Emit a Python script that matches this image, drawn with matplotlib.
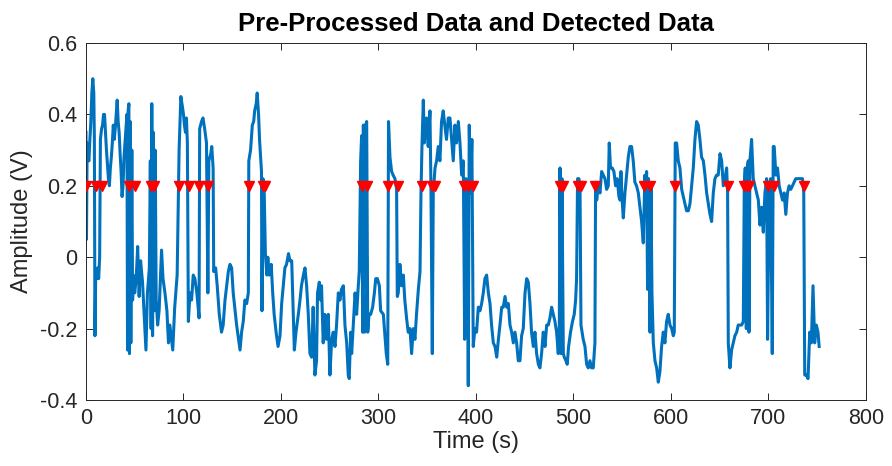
import matplotlib
matplotlib.use("Agg")
import matplotlib.pyplot as plt

plt.rcParams["font.family"] = ["Liberation Sans", "DejaVu Sans"]
plt.rcParams["axes.unicode_minus"] = False

# Pre-processed signal: time (s) and amplitude (V)
time_s = [
    0, 0.5, 1.2, 2, 3, 4, 5, 6, 7, 8, 8.6, 9.2, 10, 11, 12, 13, 14, 14.8, 16, 17,
    18, 19, 20, 21, 22, 23, 24, 25, 26, 27, 28, 29, 30, 31, 32, 33, 34, 35, 36, 37,
    38, 39, 40, 41, 42, 42.6, 43.2, 44, 44.6, 45.3, 46, 47, 47.8, 48.5, 49.5,
    50, 51.5, 53, 54.5, 56, 58, 60, 61.5, 63, 65, 66, 66.8, 67.5, 68.3, 69, 70, 71,
    72, 73.5, 75, 77.5, 79, 81, 83, 84.6, 86, 89, 91, 93.5, 95.5, 97.3, 99, 100,
    101, 102, 103, 104, 105, 106.7, 108.3, 110, 111.7, 113.7, 116, 116.6, 118.5,
    120, 121.7, 123.6, 125, 126, 128, 129, 130.4, 131, 133, 134.6, 136.7, 139,
    140.7, 142.6, 144.3, 146, 147.7, 149.4, 151, 154.5, 156, 158, 159.6, 161.3,
    163, 164.8, 166.5, 167, 168.8, 170.6, 172, 173, 174.6, 175.6, 177, 178, 180,
    180.5, 181.5, 182.8, 184, 185.5, 186.5, 188, 190, 191.5, 193, 195, 197, 199,
    200.7, 202.4, 204, 205.7, 207.7, 209.2, 211, 212, 213.7, 215.4, 217.8, 219.5,
    221, 223, 224.6, 226.3, 228, 229.7, 231.4, 233, 234.8, 236.5, 237.5, 239.3,
    240.6, 241.6, 243.3, 245, 246.7, 248.5, 250.2, 252, 253.6, 255.4, 257, 258.8,
    260.5, 262, 264, 265.6, 267.4, 269, 270, 271.5, 272.5, 274.2, 276, 277.6,
    279.3, 280.3, 281.7, 282.7, 283.8, 284.5, 285.8, 286.8, 287.9, 289, 290.3,
    292, 294, 295.8, 297.2, 298.9, 300.9, 302.2, 305, 306.6, 308, 309.5, 310.3,
    311.8, 313.5, 315, 316.9, 318.6, 319.3, 320.3, 322, 323.7, 325.5, 327, 328.8,
    330.5, 332.3, 334, 335.7, 337.4, 339, 340.9, 342.6, 343.6, 344.6, 346, 347,
    349.4, 351, 352.8, 353.8, 355.2, 356.2, 358, 359.6, 361.3, 363, 364.7, 366.4,
    368, 369.8, 371.6, 373.3, 375, 376.7, 378.4, 380, 381.9, 383.6, 385.3, 387,
    388.4, 389.7, 391, 392.1, 393.1, 394.4, 395.8, 397.2, 398.9, 400.6, 402.4,
    404.1, 405.8, 407.5, 409.2, 410.9, 412.7, 414.4, 416, 417.8, 419.5, 421.3,
    423, 424.6, 426.4, 428, 429.8, 431.5, 433.2, 434.9, 436.6, 438.3, 440, 441.7,
    443.4, 445.1, 446.8, 448.5, 450.3, 452, 453.7, 455.4, 457, 458.8, 460.5,
    462.2, 464, 465.6, 467.3, 469, 470.8, 472.5, 474.2, 475.9, 477.6, 479.3, 481,
    482.7, 484.4, 485.5, 486.2, 487.2, 488.2, 489.6, 490.6, 492.3, 493.6, 495,
    497, 499, 500.8, 502.2, 503.2, 504.2, 505.6, 506.7, 507.7, 510, 511.8, 513.5,
    515.2, 516.9, 518.6, 520.3, 522, 522.7, 523.8, 525.5, 527.2, 528.9, 530.6,
    532.3, 534, 535.7, 536.7, 538, 539.8, 541.5, 543.2, 544.9, 546.6, 547.7,
    548.7, 549.7, 551.1, 552.8, 554.5, 556.2, 557.9, 559.6, 561.3, 563, 564.7,
    566.5, 568.2, 569.9, 571.6, 573.3, 574.3, 575, 576, 577, 578.5, 579.5, 580.5,
    581.9, 583.6, 585.3, 587, 588.7, 590.4, 592.1, 593.8, 595.5, 597.2, 599,
    600.7, 602.4, 603.4, 604.4, 605.8, 607.5, 609.2, 611, 612.6, 614.3, 616,
    617.8, 619.5, 621.2, 622.9, 624.6, 626.3, 628, 629.7, 631.4, 633.2, 634.9,
    636.6, 638.3, 640, 641.7, 643.4, 645.1, 646.8, 648.5, 650.3, 652, 653.7,
    655.4, 657.1, 658.1, 658.8, 660.5, 662.2, 663.9, 665.6, 667.4, 669, 670.8,
    672.5, 674.2, 675.2, 676.2, 677.3, 678.3, 679.3, 680, 681, 682.7, 684.4,
    686.1, 687.8, 689.6, 691.3, 693, 694.7, 696.4, 698.1, 699.1, 700.8, 702.2,
    703.9, 704.9, 705.9, 707.6, 709.3, 711, 712.7, 714.4, 716.1, 717.8, 719.5,
    721.2, 722.9, 724.6, 726.3, 728, 729.7, 731.4, 733.2, 734.9, 736.2, 737.2,
    738.9, 740.6, 742.3, 744, 745.7, 747.4, 749.1, 750.8, 752,
]
amplitude_v = [
    0.35, 0.05, 0.32, 0.28, 0.27, 0.33, 0.38, 0.46, 0.50, 0.46, 0.33, -0.22, -0.04,
    -0.06, -0.03, -0.06, 0.0, 0.33, 0.36, 0.37, 0.40, 0.40, 0.35, 0.30, 0.26, 0.22,
    0.20, 0.25, 0.28, 0.32, 0.37, 0.33, 0.36, 0.40, 0.44, 0.38, 0.35, 0.29, 0.24,
    0.17, 0.20, 0.28, 0.32, 0.36, 0.40, -0.26, 0.41, 0.43, -0.27, 0.38, -0.24,
    0.30, -0.12, -0.05, -0.09,
    -0.10, -0.06, 0.03, -0.11, -0.01, -0.07, -0.18, -0.26, -0.10, -0.03, 0.27,
    -0.20, 0.43, -0.22, 0.35, -0.15, 0.30, -0.12, -0.19, -0.15, 0.02, -0.06,
    -0.10, -0.15, -0.24, -0.19, -0.26, -0.14, -0.05, 0.30, 0.45, 0.42, 0.40,
    0.37, 0.35, 0.39, 0.32, -0.18, -0.10, -0.12, -0.05, -0.06, -0.10, -0.17, 0.36,
    0.38, 0.39, 0.36, 0.32, -0.10, 0.27, 0.29, 0.31, 0.25, -0.04, -0.03, -0.08,
    -0.16, -0.21, -0.19, -0.12, -0.08, -0.04, -0.02, -0.03, -0.10, -0.19, -0.22,
    -0.26, -0.21, -0.18, -0.12, -0.13, -0.10, 0.27, 0.30, 0.37, 0.38, 0.41, 0.43,
    0.46, 0.40, 0.33, 0.24, -0.15, 0.22, 0.18, 0.01, -0.05, 0.0, -0.05, -0.02,
    -0.10, -0.16, -0.21, -0.25, -0.22, -0.13, -0.08, -0.03, -0.02, 0.01, -0.01,
    -0.01, -0.10, -0.26, -0.21, -0.16, -0.12, -0.08, -0.05, -0.03, -0.08, -0.16,
    -0.27, -0.28, -0.14, -0.33, -0.29, -0.10, -0.07, -0.12, -0.08, -0.24, -0.16,
    -0.23, -0.16, -0.33, -0.23, -0.21, -0.25, -0.19, -0.10, -0.12, -0.09, -0.08,
    -0.19, -0.24, -0.33, -0.34, -0.21, -0.27, -0.19, -0.10, -0.16, -0.08, -0.04,
    0.27, 0.34, -0.21, 0.37, -0.21, 0.37, 0.38, -0.21, -0.16, -0.16, -0.14,
    -0.10, -0.06, -0.06, -0.08, -0.15, -0.16, -0.22, -0.27, -0.30, 0.38, 0.28,
    0.24, 0.23, 0.22, 0.19, -0.11, -0.10, -0.02, -0.08, -0.05, -0.12, -0.17,
    -0.21, -0.20, -0.27, -0.20, -0.23, -0.16, -0.09, -0.04, 0.18, 0.31, 0.44,
    0.32, 0.39, 0.31, 0.41, 0.20, -0.27, 0.18, 0.25, 0.27, 0.31, 0.27, 0.38,
    0.41, 0.37, 0.33, 0.39, 0.39, 0.33, 0.27, 0.37, 0.32, 0.38, 0.32, 0.23, 0.27,
    -0.23, 0.22, 0.16, -0.36, 0.37, 0.18, 0.33, -0.25, -0.20, -0.21, -0.14,
    -0.15, -0.13, -0.10, -0.06, -0.05, -0.10, -0.13, -0.19, -0.24, -0.25, -0.28,
    -0.23, -0.19, -0.14, -0.14, -0.11, -0.14, -0.13, -0.19, -0.21, -0.24, -0.21,
    -0.24, -0.29, -0.29, -0.22, -0.20, -0.10, -0.06, -0.07, -0.13, -0.21, -0.25,
    -0.21, -0.27, -0.30, -0.31, -0.27, -0.21, -0.25, -0.19, -0.19, -0.17, -0.14,
    -0.16, -0.18, -0.21, -0.27, -0.19, 0.25, -0.27, 0.22, -0.27, -0.28, -0.29,
    -0.30, -0.25, -0.21, -0.18, -0.16, -0.12, -0.06, 0.22, 0.22, 0.20, -0.19,
    -0.23, -0.25, -0.30, -0.31, -0.29, -0.31, -0.31, -0.24, 0.21, 0.16, 0.20,
    0.18, 0.24, 0.23, 0.22, 0.19, 0.20, 0.32, 0.25, 0.25, 0.24, 0.20, 0.22, 0.17,
    0.16, 0.24, 0.17, 0.11, 0.18, 0.23, 0.28, 0.31, 0.31, 0.27, 0.21, 0.20, 0.18,
    0.14, 0.10, 0.04, 0.23, 0.15, 0.24, -0.09, 0.22, -0.21, 0.20, -0.10, -0.24,
    -0.29, -0.31, -0.35, -0.32, -0.25, -0.21, -0.24, -0.18, -0.16, -0.19, -0.20,
    -0.22, -0.21, 0.32, 0.32, 0.27, 0.25, 0.19, 0.17, 0.15, 0.13, 0.13, 0.15,
    0.20, 0.25, 0.33, 0.38, 0.37, 0.33, 0.28, 0.27, 0.23, 0.18, 0.15, 0.12, 0.10,
    0.18, 0.22, 0.23, 0.23, 0.29, 0.27, 0.20, 0.22, 0.25, 0.18, -0.24, -0.31,
    -0.26, -0.24, -0.22, -0.21, -0.19, -0.19, -0.19, -0.18, 0.20, 0.25, -0.20,
    0.25, 0.27, -0.21, 0.27, 0.33, 0.22, 0.20, 0.18, 0.16, 0.09, 0.14, 0.07,
    0.18, 0.22, -0.23, 0.20, 0.22, -0.27, 0.31, 0.31, 0.23, 0.25, 0.20, 0.18,
    0.16, 0.18, 0.12, 0.18, 0.20, 0.19, 0.20, 0.21, 0.22, 0.22, 0.22, 0.22, 0.22,
    0.18, -0.33, -0.33, -0.34, -0.21, -0.24, -0.08, -0.24, -0.19, -0.21, -0.25,
]

# Detection threshold and times where the detector fired
threshold_v = 0.2
detect_times = [
    0, 10.5, 16.6, 44.6, 50, 66.7, 69.5, 95.6, 105.3, 116.4, 125.4, 167.7,
    181.3, 184, 283.3, 288.4, 310, 320, 345, 354.7, 357.7, 388.2, 392, 396.7,
    486.5, 489.5, 504.4, 508.2, 522, 572, 578.3, 604, 658.8, 675.4, 678,
    680.5, 699.3, 706, 736.6,
]

fig = plt.figure(figsize=(8.92, 4.66), dpi=100)
ax = fig.add_axes([0.0964, 0.1416, 0.8744, 0.7661])

ax.plot(time_s, amplitude_v, color="#0072BD", linewidth=2.2, zorder=2)
ax.plot(detect_times, [threshold_v] * len(detect_times), linestyle="none",
        marker="v", markersize=7, color="red", markeredgecolor="red", zorder=3)

ax.set_xlim(0, 800)
ax.set_ylim(-0.4, 0.6)
ax.set_xticks([0, 100, 200, 300, 400, 500, 600, 700, 800])
ax.set_yticks([-0.4, -0.2, 0, 0.2, 0.4, 0.6])
ax.set_yticklabels(["-0.4", "-0.2", "0", "0.2", "0.4", "0.6"])

dark = "#262626"
for s in ax.spines.values():
    s.set_color(dark)
    s.set_linewidth(0.7)
ax.tick_params(direction="in", top=True, right=True, length=5, width=0.7,
               colors=dark, labelsize=15.5, pad=6)

ax.set_xlabel("Time (s)", fontsize=17, color=dark, labelpad=1)
ax.set_ylabel("Amplitude (V)", fontsize=17, color=dark, labelpad=5)
ax.set_title("Pre-Processed Data and Detected Data", fontsize=18.5,
             fontweight="bold", color="black", pad=9)

fig.savefig("out.png", dpi=100)
